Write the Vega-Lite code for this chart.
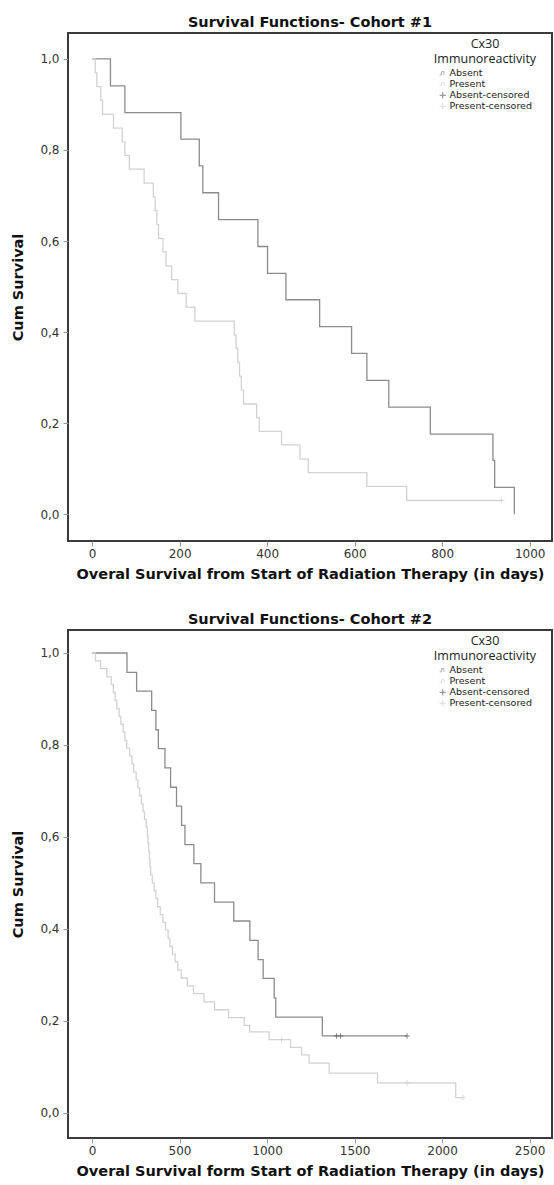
{
  "$schema": "https://vega.github.io/schema/vega-lite/v6.json",
  "padding": {"left": 9, "top": 13, "right": 2, "bottom": 2},
  "background": "white",
  "spacing": 28,
  "config": {
    "font": "DejaVu Sans",
    "view": {"stroke": "#3a3a3a", "strokeWidth": 2},
    "axis": {"domain": false, "grid": false, "labelFont": "DejaVu Sans", "labelFontSize": 12, "labelColor": "#333", "tickColor": "#999", "tickSize": 5, "labelPadding": 2, "titleFont": "DejaVu Sans", "titleFontSize": 14.5, "titleFontWeight": "bold", "titleColor": "#111"},
    "axisY": {"titlePadding": 14, "labelPadding": 4},
    "axisX": {"titlePadding": 8, "format": "d"},
    "title": {"font": "DejaVu Sans", "fontSize": 14.5, "fontWeight": "bold", "color": "#111", "offset": 3},
    "legend": {"orient": "none", "legendX": 366, "legendY": 5, "titleFont": "Open Sans", "titleFontSize": 12.5, "titleLineHeight": 15, "titleFontWeight": "normal", "titleAlign": "center", "titleAnchor": "middle", "titleColor": "#222", "titlePadding": 3, "labelFont": "DejaVu Sans", "labelFontSize": 9.5, "labelColor": "#222", "symbolSize": 40, "rowPadding": 0, "symbolStrokeWidth": 1, "labelOffset": 2}
  },
  "datasets": {
    "c1": [
      {"grp": "Absent", "days": 0, "surv": 1},
      {"grp": "Absent", "days": 42, "surv": 0.941},
      {"grp": "Absent", "days": 75, "surv": 0.882},
      {"grp": "Absent", "days": 203, "surv": 0.824},
      {"grp": "Absent", "days": 245, "surv": 0.765},
      {"grp": "Absent", "days": 253, "surv": 0.706},
      {"grp": "Absent", "days": 289, "surv": 0.647},
      {"grp": "Absent", "days": 379, "surv": 0.588},
      {"grp": "Absent", "days": 401, "surv": 0.529},
      {"grp": "Absent", "days": 443, "surv": 0.471},
      {"grp": "Absent", "days": 520, "surv": 0.412},
      {"grp": "Absent", "days": 593, "surv": 0.353},
      {"grp": "Absent", "days": 628, "surv": 0.294},
      {"grp": "Absent", "days": 678, "surv": 0.235},
      {"grp": "Absent", "days": 773, "surv": 0.176},
      {"grp": "Absent", "days": 916, "surv": 0.118},
      {"grp": "Absent", "days": 920, "surv": 0.059},
      {"grp": "Absent", "days": 965, "surv": 0},
      {"grp": "Present", "days": 0, "surv": 1},
      {"grp": "Present", "days": 7, "surv": 0.970},
      {"grp": "Present", "days": 11, "surv": 0.939},
      {"grp": "Present", "days": 20, "surv": 0.909},
      {"grp": "Present", "days": 24, "surv": 0.879},
      {"grp": "Present", "days": 49, "surv": 0.848},
      {"grp": "Present", "days": 69, "surv": 0.818},
      {"grp": "Present", "days": 75, "surv": 0.788},
      {"grp": "Present", "days": 85, "surv": 0.758},
      {"grp": "Present", "days": 119, "surv": 0.727},
      {"grp": "Present", "days": 140, "surv": 0.697},
      {"grp": "Present", "days": 144, "surv": 0.667},
      {"grp": "Present", "days": 148, "surv": 0.636},
      {"grp": "Present", "days": 152, "surv": 0.606},
      {"grp": "Present", "days": 162, "surv": 0.576},
      {"grp": "Present", "days": 169, "surv": 0.545},
      {"grp": "Present", "days": 182, "surv": 0.515},
      {"grp": "Present", "days": 196, "surv": 0.485},
      {"grp": "Present", "days": 215, "surv": 0.455},
      {"grp": "Present", "days": 235, "surv": 0.424},
      {"grp": "Present", "days": 325, "surv": 0.394},
      {"grp": "Present", "days": 329, "surv": 0.364},
      {"grp": "Present", "days": 333, "surv": 0.333},
      {"grp": "Present", "days": 337, "surv": 0.303},
      {"grp": "Present", "days": 341, "surv": 0.273},
      {"grp": "Present", "days": 346, "surv": 0.242},
      {"grp": "Present", "days": 376, "surv": 0.212},
      {"grp": "Present", "days": 382, "surv": 0.182},
      {"grp": "Present", "days": 433, "surv": 0.152},
      {"grp": "Present", "days": 475, "surv": 0.121},
      {"grp": "Present", "days": 494, "surv": 0.091},
      {"grp": "Present", "days": 628, "surv": 0.061},
      {"grp": "Present", "days": 719, "surv": 0.030},
      {"grp": "Present", "days": 936, "surv": 0.030}
    ],
    "c1cens": [
      {"grp": "Present-censored", "days": 936, "surv": 0.030}
    ],
    "c2": [
      {"grp": "Absent", "days": 0, "surv": 1},
      {"grp": "Absent", "days": 200, "surv": 0.958},
      {"grp": "Absent", "days": 255, "surv": 0.917},
      {"grp": "Absent", "days": 341, "surv": 0.875},
      {"grp": "Absent", "days": 365, "surv": 0.833},
      {"grp": "Absent", "days": 379, "surv": 0.792},
      {"grp": "Absent", "days": 417, "surv": 0.750},
      {"grp": "Absent", "days": 449, "surv": 0.708},
      {"grp": "Absent", "days": 483, "surv": 0.667},
      {"grp": "Absent", "days": 512, "surv": 0.625},
      {"grp": "Absent", "days": 531, "surv": 0.583},
      {"grp": "Absent", "days": 582, "surv": 0.542},
      {"grp": "Absent", "days": 622, "surv": 0.500},
      {"grp": "Absent", "days": 700, "surv": 0.458},
      {"grp": "Absent", "days": 810, "surv": 0.417},
      {"grp": "Absent", "days": 902, "surv": 0.375},
      {"grp": "Absent", "days": 949, "surv": 0.333},
      {"grp": "Absent", "days": 978, "surv": 0.292},
      {"grp": "Absent", "days": 1041, "surv": 0.250},
      {"grp": "Absent", "days": 1050, "surv": 0.208},
      {"grp": "Absent", "days": 1316, "surv": 0.167},
      {"grp": "Absent", "days": 1800, "surv": 0.167},
      {"grp": "Present", "days": 0, "surv": 1},
      {"grp": "Present", "days": 20, "surv": 0.983},
      {"grp": "Present", "days": 50, "surv": 0.966},
      {"grp": "Present", "days": 85, "surv": 0.948},
      {"grp": "Present", "days": 110, "surv": 0.931},
      {"grp": "Present", "days": 122, "surv": 0.914},
      {"grp": "Present", "days": 132, "surv": 0.897},
      {"grp": "Present", "days": 142, "surv": 0.879},
      {"grp": "Present", "days": 155, "surv": 0.862},
      {"grp": "Present", "days": 165, "surv": 0.845},
      {"grp": "Present", "days": 178, "surv": 0.828},
      {"grp": "Present", "days": 188, "surv": 0.810},
      {"grp": "Present", "days": 199, "surv": 0.793},
      {"grp": "Present", "days": 215, "surv": 0.776},
      {"grp": "Present", "days": 228, "surv": 0.759},
      {"grp": "Present", "days": 238, "surv": 0.741},
      {"grp": "Present", "days": 252, "surv": 0.724},
      {"grp": "Present", "days": 262, "surv": 0.707},
      {"grp": "Present", "days": 272, "surv": 0.690},
      {"grp": "Present", "days": 282, "surv": 0.672},
      {"grp": "Present", "days": 292, "surv": 0.655},
      {"grp": "Present", "days": 300, "surv": 0.638},
      {"grp": "Present", "days": 310, "surv": 0.621},
      {"grp": "Present", "days": 316, "surv": 0.603},
      {"grp": "Present", "days": 320, "surv": 0.586},
      {"grp": "Present", "days": 324, "surv": 0.569},
      {"grp": "Present", "days": 328, "surv": 0.552},
      {"grp": "Present", "days": 331, "surv": 0.534},
      {"grp": "Present", "days": 336, "surv": 0.517},
      {"grp": "Present", "days": 345, "surv": 0.500},
      {"grp": "Present", "days": 355, "surv": 0.483},
      {"grp": "Present", "days": 365, "surv": 0.466},
      {"grp": "Present", "days": 375, "surv": 0.448},
      {"grp": "Present", "days": 390, "surv": 0.431},
      {"grp": "Present", "days": 405, "surv": 0.414},
      {"grp": "Present", "days": 420, "surv": 0.397},
      {"grp": "Present", "days": 435, "surv": 0.379},
      {"grp": "Present", "days": 445, "surv": 0.362},
      {"grp": "Present", "days": 460, "surv": 0.345},
      {"grp": "Present", "days": 475, "surv": 0.328},
      {"grp": "Present", "days": 490, "surv": 0.310},
      {"grp": "Present", "days": 510, "surv": 0.293},
      {"grp": "Present", "days": 545, "surv": 0.276},
      {"grp": "Present", "days": 580, "surv": 0.259},
      {"grp": "Present", "days": 640, "surv": 0.241},
      {"grp": "Present", "days": 700, "surv": 0.224},
      {"grp": "Present", "days": 780, "surv": 0.207},
      {"grp": "Present", "days": 870, "surv": 0.190},
      {"grp": "Present", "days": 900, "surv": 0.176},
      {"grp": "Present", "days": 1012, "surv": 0.159},
      {"grp": "Present", "days": 1134, "surv": 0.142},
      {"grp": "Present", "days": 1197, "surv": 0.126},
      {"grp": "Present", "days": 1240, "surv": 0.108},
      {"grp": "Present", "days": 1355, "surv": 0.086},
      {"grp": "Present", "days": 1631, "surv": 0.065},
      {"grp": "Present", "days": 2078, "surv": 0.033},
      {"grp": "Present", "days": 2120, "surv": 0.033}
    ],
    "c2cens": [
      {"grp": "Absent-censored", "days": 1397, "surv": 0.167},
      {"grp": "Absent-censored", "days": 1420, "surv": 0.167},
      {"grp": "Absent-censored", "days": 1800, "surv": 0.167},
      {"grp": "Present-censored", "days": 1083, "surv": 0.159},
      {"grp": "Present-censored", "days": 1800, "surv": 0.065},
      {"grp": "Present-censored", "days": 2120, "surv": 0.033}
    ]
  },
  "resolve": {"scale": {"color": "independent", "shape": "independent", "x": "independent", "y": "independent"}, "legend": {"color": "independent", "shape": "independent"}},
  "vconcat": [
    {
      "title": {"text": "Survival Functions- Cohort #1"},
      "width": 484,
      "height": 508,
      "layer": [
        {
          "data": {"name": "c1"},
          "mark": {"type": "line", "interpolate": "step-after", "strokeWidth": 1.3},
          "encoding": {
            "x": {"field": "days", "type": "quantitative", "scale": {"domain": [-55, 1051], "nice": false, "zero": false}, "axis": {"values": [0, 200, 400, 600, 800, 1000], "title": "Overal Survival from Start of Radiation Therapy (in days)"}},
            "y": {"field": "surv", "type": "quantitative", "scale": {"domain": [-0.059, 1.057], "nice": false, "zero": false}, "axis": {"values": [0, 0.2, 0.4, 0.6, 0.8, 1], "labelExpr": "replace(format(datum.value, '.1f'), '.', ',')", "title": "Cum Survival"}},
            "color": {"field": "grp", "type": "nominal", "scale": {"domain": ["Absent", "Present", "Absent-censored", "Present-censored"], "range": ["#8c8c8c", "#d2d2d2", "#555555", "#cccccc"]}, "legend": {"title": ["Cx30", "Immunoreactivity"]}}
          }
        },
        {
          "data": {"name": "c1cens"},
          "mark": {"type": "point", "filled": false, "size": 30, "strokeWidth": 1},
          "encoding": {
            "x": {"field": "days", "type": "quantitative"},
            "y": {"field": "surv", "type": "quantitative"},
            "color": {"field": "grp", "type": "nominal"},
            "shape": {"field": "grp", "type": "nominal", "scale": {"domain": ["Absent", "Present", "Absent-censored", "Present-censored"], "range": ["M -1 0.5 L -0.4 0.5 L -0.4 -0.5 L 0.4 -0.5 L 0.4 0.5", "M -1 0.5 L -0.4 0.5 L -0.4 -0.5 L 0.4 -0.5 L 0.4 0.5", "M -1 0 L 1 0 M 0 -1 L 0 1", "M -1 0 L 1 0 M 0 -1 L 0 1"]}, "legend": {"title": ["Cx30", "Immunoreactivity"]}}
          }
        }
      ]
    },
    {
      "title": {"text": "Survival Functions- Cohort #2"},
      "width": 484,
      "height": 508,
      "layer": [
        {
          "data": {"name": "c2"},
          "mark": {"type": "line", "interpolate": "step-after", "strokeWidth": 1.3},
          "encoding": {
            "x": {"field": "days", "type": "quantitative", "scale": {"domain": [-137, 2628], "nice": false, "zero": false}, "axis": {"values": [0, 500, 1000, 1500, 2000, 2500], "title": "Overal Survival form Start of Radiation Therapy (in days)"}},
            "y": {"field": "surv", "type": "quantitative", "scale": {"domain": [-0.055, 1.05], "nice": false, "zero": false}, "axis": {"values": [0, 0.2, 0.4, 0.6, 0.8, 1], "labelExpr": "replace(format(datum.value, '.1f'), '.', ',')", "title": "Cum Survival"}},
            "color": {"field": "grp", "type": "nominal", "scale": {"domain": ["Absent", "Present", "Absent-censored", "Present-censored"], "range": ["#8c8c8c", "#d2d2d2", "#555555", "#cccccc"]}, "legend": {"title": ["Cx30", "Immunoreactivity"]}}
          }
        },
        {
          "data": {"name": "c2cens"},
          "mark": {"type": "point", "filled": false, "size": 30, "strokeWidth": 1},
          "encoding": {
            "x": {"field": "days", "type": "quantitative"},
            "y": {"field": "surv", "type": "quantitative"},
            "color": {"field": "grp", "type": "nominal"},
            "shape": {"field": "grp", "type": "nominal", "scale": {"domain": ["Absent", "Present", "Absent-censored", "Present-censored"], "range": ["M -1 0.5 L -0.4 0.5 L -0.4 -0.5 L 0.4 -0.5 L 0.4 0.5", "M -1 0.5 L -0.4 0.5 L -0.4 -0.5 L 0.4 -0.5 L 0.4 0.5", "M -1 0 L 1 0 M 0 -1 L 0 1", "M -1 0 L 1 0 M 0 -1 L 0 1"]}, "legend": {"title": ["Cx30", "Immunoreactivity"]}}
          }
        }
      ]
    }
  ]
}
